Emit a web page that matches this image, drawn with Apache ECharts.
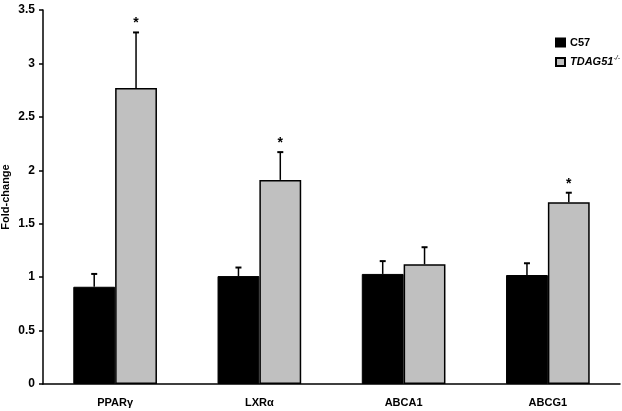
<!DOCTYPE html>
<html><head><meta charset="utf-8">
<script src="https://cdn.jsdelivr.net/npm/echarts@6/dist/echarts.min.js"></script>
<style>html,body{margin:0;padding:0;background:#fff}#c{width:622px;height:411px}</style>
</head><body><div id="c"></div>
<script>
var categories = ['PPARγ', 'LXRα', 'ABCA1', 'ABCG1'];
var c57 = [0.91, 1.01, 1.03, 1.02];
var c57Err = [0.12, 0.08, 0.12, 0.11];
var tdag = [2.77, 1.91, 1.12, 1.70];
var tdagErr = [0.52, 0.26, 0.16, 0.09];
var tdagSig = ['*', '*', '', '*'];
var yTicks = [0, 0.5, 1, 1.5, 2, 2.5, 3, 3.5];

var FONT = '"Liberation Sans", Arial, sans-serif';
var gapFrac = 0.42;
function errSeries(vals, errs, sigs, side, name) {
  return {
    type: 'custom', name: name + 'err', silent: true, z: 5,
    data: vals.map(function (v, i) { return [i, v, v + errs[i], sigs ? sigs[i] : '']; }),
    renderItem: function (params, api) {
      var bw = api.size([1, 0])[0] * (1 - gapFrac) / 2;
      var base = api.coord([api.value(0), api.value(1)]);
      var top = api.coord([api.value(0), api.value(2)]);
      var x = base[0] + side * bw / 2;
      var children = [
        { type: 'line', shape: { x1: x, y1: base[1], x2: x, y2: top[1] }, style: { stroke: '#000', lineWidth: 1.5 } },
        { type: 'line', shape: { x1: x - 3, y1: top[1], x2: x + 3, y2: top[1] }, style: { stroke: '#000', lineWidth: 2 } }
      ];
      var s = api.value(3);
      if (s) {
        children.push({ type: 'text', x: x, y: top[1] - 2, style: { text: s, fill: '#000', font: 'bold 14px ' + FONT, align: 'center', verticalAlign: 'bottom' } });
      }
      return { type: 'group', children: children };
    }
  };
}

var chart = echarts.init(document.getElementById('c'));
chart.setOption({
  animation: false,
  grid: { left: 43, right: 2, top: 10, bottom: 27, containLabel: false, outerBoundsMode: 'none' },
  legend: {
    orient: 'vertical', left: 555, top: 37, itemWidth: 9, itemHeight: 8, itemGap: 7,
    icon: 'rect', padding: 0,
    data: ['C57', 'TDAG51'],
    formatter: function (n) { return n === 'C57' ? '{b|C57}' : '{i|TDAG51}{s|-/-}'; },
    textStyle: {
      rich: {
        b: { fontFamily: FONT, fontWeight: 'bold', fontSize: 11, color: '#000', lineHeight: 14 },
        i: { fontFamily: FONT, fontWeight: 'bold', fontStyle: 'italic', fontSize: 11, color: '#000', lineHeight: 14 },
        s: { fontFamily: FONT, fontStyle: 'italic', fontSize: 7, color: '#000', verticalAlign: 'top', lineHeight: 14, padding: [0, 0, 6, 0] }
      }
    }
  },
  xAxis: {
    type: 'category', data: categories,
    axisLine: { lineStyle: { color: '#000', width: 1.5 } },
    axisTick: { show: false },
    axisLabel: { color: '#000', fontWeight: 'bold', fontSize: 11, fontFamily: FONT, margin: 13 }
  },
  yAxis: {
    type: 'value', min: 0, max: 3.5, interval: 0.5,
    name: 'Fold-change', nameLocation: 'middle', nameGap: 32, nameMoveOverlap: false,
    nameTextStyle: { color: '#000', fontWeight: 'bold', fontSize: 11, fontFamily: FONT },
    axisLine: { show: true, lineStyle: { color: '#000', width: 1.5 } },
    axisTick: { show: true, length: 4, lineStyle: { color: '#000', width: 1.5 } },
    splitLine: { show: false },
    axisLabel: { color: '#000', fontWeight: 'bold', fontSize: 12, fontFamily: FONT, margin: 8,
      formatter: function (v) { return yTicks.indexOf(v) >= 0 ? String(v) : ''; } }
  },
  series: [
    { name: 'C57', type: 'bar', data: c57, barGap: '0%', barCategoryGap: '42%',
      itemStyle: { color: '#000', borderColor: '#000', borderWidth: 1 } },
    { name: 'TDAG51', type: 'bar', data: tdag, barGap: '0%', barCategoryGap: '42%',
      itemStyle: { color: '#c0c0c0', borderColor: '#000', borderWidth: 1.5 } },
    errSeries(c57, c57Err, null, -1, 'C57'),
    errSeries(tdag, tdagErr, tdagSig, 1, 'TDAG51')
  ]
});
</script></body></html>
